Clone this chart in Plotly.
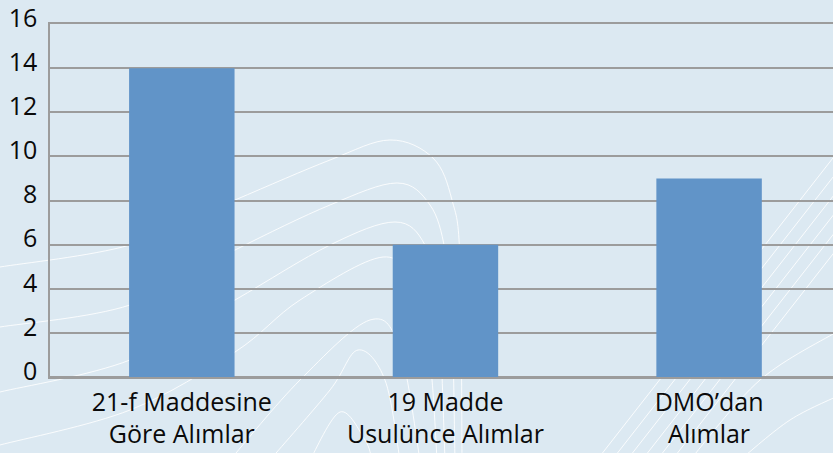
import plotly.graph_objects as go

categories = ["21-f Maddesine<br>Göre Alımlar", "19 Madde<br>Usulünce Alımlar", "DMO’dan<br>Alımlar"]
values = [14, 6, 9]
y_ticks = [0, 2, 4, 6, 8, 10, 12, 14, 16]

W, H = 833, 453
ML, MR, MT, MB = 50, 0, 24, 76
PW, PH = W - ML - MR, H - MT - MB


def px2paper(x, y):
    return (x - ML) / PW, (H - MB - y) / PH


def smooth_path(pts):
    # Catmull-Rom -> cubic bezier, in paper coordinates
    P = [px2paper(*p) for p in pts]
    d = "M {:.4f},{:.4f}".format(*P[0])
    for i in range(len(P) - 1):
        p0 = P[i - 1] if i > 0 else P[i]
        p1 = P[i]
        p2 = P[i + 1]
        p3 = P[i + 2] if i + 2 < len(P) else P[i + 1]
        c1 = (p1[0] + (p2[0] - p0[0]) / 6, p1[1] + (p2[1] - p0[1]) / 6)
        c2 = (p2[0] - (p3[0] - p1[0]) / 6, p2[1] - (p3[1] - p1[1]) / 6)
        d += " C {:.4f},{:.4f} {:.4f},{:.4f} {:.4f},{:.4f}".format(*c1, *c2, *p2)
    return d


# decorative background contour lines (not data)
deco = [
    [(0, 267), (130, 245), (235, 200), (330, 160), (390, 140), (433, 158), (452, 200), (460, 260), (462, 460)],
    [(0, 327), (130, 305), (235, 250), (330, 205), (397, 183), (430, 205), (445, 250), (452, 320), (455, 460)],
    [(0, 392), (130, 360), (235, 300), (330, 245), (395, 222), (425, 245), (438, 300), (445, 460)],
    [(0, 445), (130, 410), (235, 352), (300, 300), (383, 257), (415, 290), (430, 360), (437, 460)],
    [(230, 460), (300, 380), (370, 320), (400, 350), (420, 460)],
    [(270, 460), (330, 390), (358, 350), (385, 380), (400, 460)],
    [(310, 460), (340, 412), (365, 440), (372, 460)],
    [(690, 460), (760, 380), (840, 330)],
    [(740, 460), (790, 420), (840, 395)],
]
shapes = []
for pts in deco:
    shapes.append(dict(type="path", xref="paper", yref="paper", path=smooth_path(pts),
                       line=dict(color="rgba(255,255,255,0.85)", width=1), layer="below"))
for x0 in [597, 612, 627, 642, 657, 672]:
    xa, ya = px2paper(x0, 460)
    xb, yb = px2paper(840, 460 - (840 - x0) * 1.28)
    shapes.append(dict(type="line", xref="paper", yref="paper", x0=xa, y0=ya, x1=xb, y1=yb,
                       line=dict(color="rgba(255,255,255,0.85)", width=1), layer="below"))

fig = go.Figure()
fig.add_trace(go.Bar(
    x=categories, y=values,
    marker=dict(color="#6194c8", line=dict(width=0)),
    width=0.40,
))

fig.update_layout(
    width=W, height=H,
    margin=dict(l=ML, r=MR, t=MT, b=MB, pad=0),
    paper_bgcolor="#dce9f2",
    plot_bgcolor="rgba(0,0,0,0)",
    showlegend=False,
    font=dict(family="Open Sans, Noto Sans, sans-serif", size=25, color="#0a0a0a"),
    shapes=shapes,
    xaxis=dict(
        range=[-0.5, 2.47],
        showgrid=False,
        showline=True,
        mirror=True,
        linecolor="#9c9c9c",
        linewidth=1.5,
        ticks="",
        ticklen=0,
        tickfont=dict(size=25),
        ticklabelstandoff=2,
    ),
    yaxis=dict(
        range=[0, 16],
        tickvals=y_ticks,
        showgrid=True,
        gridcolor="#9c9c9c",
        gridwidth=1.5,
        zeroline=True,
        zerolinecolor="#9c9c9c",
        zerolinewidth=1.5,
        showline=True,
        linecolor="#9c9c9c",
        linewidth=1.5,
        ticks="",
        ticklen=0,
        ticklabelstandoff=6,
        ticklabelshift=-6,
        ticklabeloverflow="allow",
        tickfont=dict(size=25),
    ),
)

fig.write_html("out.html", config={"displayModeBar": False},
               post_script="document.body.style.margin='0';")
